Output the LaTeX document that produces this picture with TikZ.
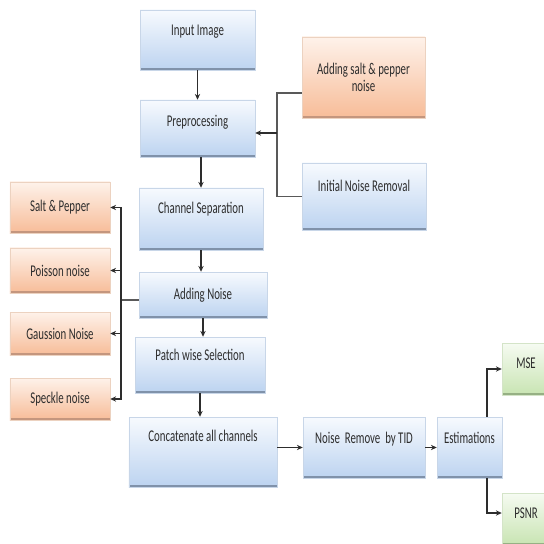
\documentclass[tikz,border=0pt]{standalone}
\usepackage{fontspec}
\newfontfamily\boxfont[FakeStretch=0.66]{Carlito}
\usetikzlibrary{arrows.meta}

\definecolor{bluetop}{RGB}{247,250,254}
\definecolor{bluebot}{RGB}{188,211,240}
\definecolor{blueedge}{RGB}{200,214,232}
\definecolor{blueshade}{RGB}{128,146,170}
\definecolor{orangetop}{RGB}{254,242,234}
\definecolor{orangebot}{RGB}{247,188,152}
\definecolor{orangeedge}{RGB}{236,210,192}
\definecolor{orangeshade}{RGB}{196,150,126}
\definecolor{greentop}{RGB}{246,251,242}
\definecolor{greenbot}{RGB}{200,228,178}
\definecolor{greenedge}{RGB}{212,228,200}
\definecolor{greenshade}{RGB}{150,176,132}
\definecolor{inkgray}{RGB}{45,45,45}

\tikzset{
  box/.style={rectangle, draw=#1edge, line width=0.4pt, top color=#1top, bottom color=#1bot,
    text=inkgray, font=\boxfont\fontsize{14}{15}\selectfont, inner sep=2pt,
    path picture={\draw[line width=3pt, #1shade] (path picture bounding box.south west) -- (path picture bounding box.south east);}},
  lift/.style={text depth=#1},
  lift/.default=17pt,
  arr/.style={-{Stealth[length=5pt, width=4.5pt]}, line width=0.9pt, inkgray},
  bus/.style={line width=0.9pt, black!65}
}

\begin{document}
\begin{tikzpicture}[x=0.03cm, y=-0.03cm]
\useasboundingbox (0,0) rectangle (544,543);
\clip (0,0) rectangle (544,543);

% main column
\node[box=blue, lift, minimum width=3.45cm, minimum height=1.8cm] (inp) at (197.5,40) {Input Image};
\node[box=blue, lift=13pt, minimum width=3.45cm, minimum height=1.71cm] (pre) at (197.5,128.5) {Preprocessing};
\node[box=blue, lift=19pt, minimum width=3.72cm, minimum height=1.86cm] (chan) at (201,219) {Channel Separation};
\node[box=blue, minimum width=3.84cm, minimum height=1.38cm] (addn) at (203,295) {Adding Noise};
\node[box=blue, lift, minimum width=3.9cm, minimum height=1.68cm] (patch) at (200,365) {Patch wise Selection};
\node[box=blue, lift=27pt, minimum width=4.44cm, minimum height=2.1cm] (conc) at (203,452) {Concatenate all channels};

% right of preprocessing
\node[box=orange, align=center, minimum width=3.69cm, minimum height=2.43cm] (salt) at (363.5,77.5) {Adding salt \& pepper\\noise};
\node[box=blue, lift=19pt, minimum width=3.72cm, minimum height=2.01cm] (init) at (364,196.5) {Initial Noise Removal};

% noise types
\node[box=orange, minimum width=3cm, minimum height=1.53cm] (lsp) at (60,207.5) {Salt \& Pepper};
\node[box=orange, minimum width=3cm, minimum height=1.35cm] (lpo) at (60,270.5) {Poisson noise};
\node[box=orange, minimum width=3cm, minimum height=1.29cm] (lga) at (60,333.5) {Gaussion Noise};
\node[box=orange, minimum width=3cm, minimum height=1.26cm] (lsk) at (60,399) {Speckle noise};

% bottom row
\node[box=blue, lift, minimum width=3.66cm, minimum height=1.83cm] (tid) at (364,447.5) {Noise\ \ Remove\ \ by TID};
\node[box=blue, lift, minimum width=1.95cm, minimum height=1.83cm] (est) at (469.5,447.5) {Estimations};
\node[box=green, lift=10pt, minimum width=1.44cm, minimum height=1.56cm] (mse) at (526,369) {MSE};
\node[box=green, lift=10pt, minimum width=1.44cm, minimum height=1.56cm] (psnr) at (526,519) {PSNR};

% connectors
\draw[arr] (inp) -- (pre);
\draw[arr] (pre.south -| chan.north) -- (chan.north);
\draw[arr] (chan.south) -- (chan.south |- addn.north);
\draw[arr] (addn.south) -- (addn.south |- patch.north);
\draw[arr] (patch.south) -- (patch.south |- conc.north);
\draw[arr] (tid.west -| conc.east) -- (tid.west);
\draw[arr] (tid) -- (est);

\coordinate (rbus) at (277,133);
\draw[bus] ([yshift=-0.465cm]salt.west) -| (rbus);
\draw[bus] (init.west) -| (rbus);
\draw[arr] (rbus) -- (rbus -| pre.east);

\coordinate (lbus) at (121,300);
\draw[bus] (addn.west |- lbus) -- (lbus);
\foreach \n in {lsp,lpo,lga,lsk}
  \draw[arr] (lbus) |- (\n.east);

\draw[arr] ([xshift=0.525cm]est.north) |- (mse.west);
\draw[arr] ([xshift=0.525cm]est.south) |- ([yshift=0.18cm]psnr.west);

\end{tikzpicture}
\end{document}
